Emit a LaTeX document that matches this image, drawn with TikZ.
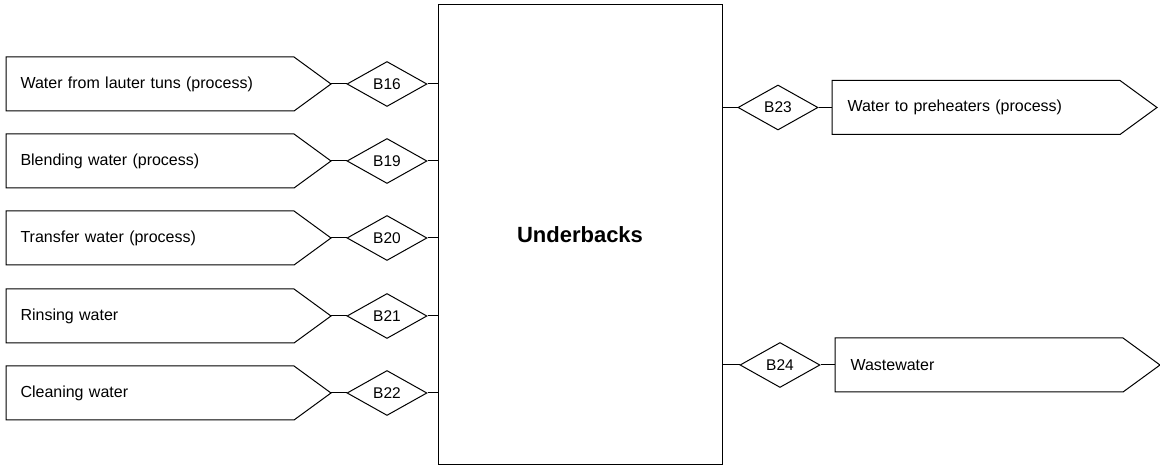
\documentclass[tikz,border=0pt]{standalone}
\usepackage{fontspec}
\setmainfont{Liberation Sans}
\usetikzlibrary{shapes.geometric,calc}
\begin{document}
\begin{tikzpicture}[x=1pt,y=1pt,
  line width=1pt,
  flagbody/.style={draw=none,anchor=west,minimum width=287pt,minimum height=53pt,inner xsep=14pt,inner ysep=0pt,text width=259pt,align=left,font=\fontsize{16}{19}\selectfont},
  valve/.style={draw,diamond,minimum width=80pt,minimum height=45pt,inner sep=0pt,font=\fontsize{15.5}{18}\selectfont},
  link/.style={draw}]
\useasboundingbox (0,0) rectangle (1160,471);
\node[draw,minimum width=284pt,minimum height=460pt,inner sep=0pt,font=\bfseries\fontsize{22}{25}\selectfont] (ub) at (580,236) {Underbacks};

% left inputs
\foreach \i/\y/\lab/\txt in {1/387/B16/Water from lauter tuns (process),
                            2/310/B19/Blending water (process),
                            3/233/B20/Transfer water (process),
                            4/155/B21/Rinsing water,
                            5/78/B22/Cleaning water}{
  \node[flagbody] (f\i) at (6,\y) {\txt};
  \coordinate (t\i) at ($(f\i.east)+(37,0)$);
  \draw (f\i.north west) -- (f\i.north east) -- (t\i) -- (f\i.south east) -- (f\i.south west) -- cycle;
  \node[valve] (d\i) at (387,\y) {\lab};
  \draw[link] (t\i) -- (d\i.west);
  \draw[link] (d\i.east) -- (d\i.east -| ub.west);
}

% right outputs
\foreach \i/\y/\dx/\fx/\lab/\txt in {6/363.5/778/832/B23/Water to preheaters (process),
                                  7/106/780/835/B24/Wastewater}{
  \node[valve] (d\i) at (\dx,\y) {\lab};
  \node[flagbody,inner xsep=15pt,text width=257pt] (f\i) at (\fx,\y) {\txt};
  \coordinate (t\i) at ($(f\i.east)+(37,0)$);
  \draw (f\i.north west) -- (f\i.north east) -- (t\i) -- (f\i.south east) -- (f\i.south west) -- cycle;
  \draw[link] (d\i.west -| ub.east) -- (d\i.west);
  \draw[link] (d\i.east) -- (f\i.west);
}
\end{tikzpicture}
\end{document}
